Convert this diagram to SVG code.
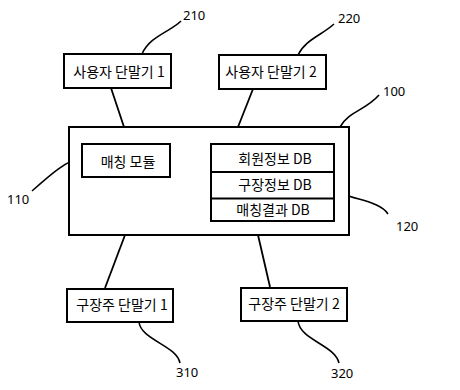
<svg xmlns="http://www.w3.org/2000/svg" width="460" height="390" viewBox="0 0 460 390">
<style>
.box{fill:#fff;stroke:#000;stroke-width:2}
.ln{fill:none;stroke:#000;stroke-width:1.8}
.ld{fill:none;stroke:#000;stroke-width:1.6}
.t{font-family:"Noto Sans CJK KR","Noto Sans",sans-serif;font-size:14px;fill:#000;text-anchor:middle}
.n{font-family:"Noto Sans","Noto Sans CJK KR",sans-serif;font-size:13px;fill:#000}
</style>
<rect width="460" height="390" fill="#fff"/>
<g id="connectors">
<line class="ln" x1="111" y1="88" x2="124" y2="127"/>
<line class="ln" x1="253" y1="89" x2="238" y2="127"/>
<line class="ln" x1="125" y1="235" x2="105" y2="288"/>
<line class="ln" x1="258" y1="235" x2="270" y2="287"/>
</g>
<g id="leaders">
<path class="ld" d="M142,54 C150,36 170,32 181,21"/>
<path class="ld" d="M298,55 C305,40 322,35 334,24"/>
<path class="ld" d="M340,127 C348,112 366,110 379,95"/>
<path class="ld" d="M82,158 C68,159 50,175 32,191"/>
<path class="ld" d="M334,186 C340,200 378,198 388,214"/>
<path class="ld" d="M139,322 C141,340 176,345 180,363"/>
<path class="ld" d="M298,321 C300,340 335,345 339,363"/>
</g>
<g id="n100">
<rect class="box" x="69" y="127" width="280" height="108"/>
<text class="n" x="383" y="96">100</text>
</g>
<g id="n110">
<rect class="box" x="82" y="144" width="88" height="33"/>
<text class="t" x="128" y="167">매칭 모듈</text>
<text class="n" x="7" y="204">110</text>
</g>
<g id="n120">
<rect class="box" x="211" y="144" width="123" height="77"/>
<line class="box" x1="211" y1="172" x2="334" y2="172"/>
<line class="box" x1="211" y1="198.5" x2="334" y2="198.5"/>
<text class="t" x="275" y="164">회원정보 DB</text>
<text class="t" x="275" y="190">구장정보 DB</text>
<text class="t" x="273" y="215">매칭결과 DB</text>
<text class="n" x="396" y="231">120</text>
</g>
<g id="n210">
<rect class="box" x="64" y="54" width="107" height="34"/>
<text class="t" x="119" y="77">사용자 단말기 1</text>
<text class="n" x="183" y="20">210</text>
</g>
<g id="n220">
<rect class="box" x="219" y="55" width="107" height="34"/>
<text class="t" x="271" y="77">사용자 단말기 2</text>
<text class="n" x="338" y="23">220</text>
</g>
<g id="n310">
<rect class="box" x="67" y="289" width="106" height="33"/>
<text class="t" x="122" y="310">구장주 단말기 1</text>
<text class="n" x="176" y="377">310</text>
</g>
<g id="n320">
<rect class="box" x="241" y="288" width="106" height="33"/>
<text class="t" x="294" y="309">구장주 단말기 2</text>
<text class="n" x="331" y="378">320</text>
</g>
</svg>
